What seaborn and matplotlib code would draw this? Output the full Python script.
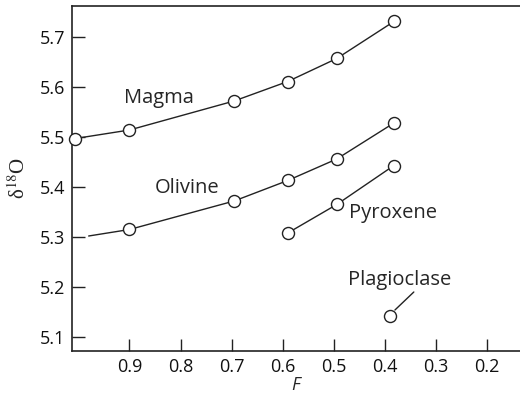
import matplotlib
matplotlib.use("Agg")
import pandas as pd
import seaborn as sns
import matplotlib.pyplot as plt

# =====================
# Data
# =====================
magma_f = [1.006, 0.9, 0.695, 0.59, 0.494, 0.382]
magma_d = [5.497, 5.514, 5.572, 5.611, 5.657, 5.731]

olivine_line_f = [0.98, 0.9, 0.695, 0.59, 0.494, 0.382]
olivine_line_d = [5.302, 5.315, 5.372, 5.413, 5.456, 5.528]
olivine_f = [0.9, 0.695, 0.59, 0.494, 0.382]
olivine_d = [5.315, 5.372, 5.413, 5.456, 5.528]

pyroxene_f = [0.59, 0.494, 0.382]
pyroxene_d = [5.308, 5.365, 5.443]

plag_f = [0.39]
plag_d = [5.143]

x_ticks = [0.9, 0.8, 0.7, 0.6, 0.5, 0.4, 0.3, 0.2]
y_ticks = [5.1, 5.2, 5.3, 5.4, 5.5, 5.6, 5.7]

# =====================
# Plot
# =====================
sns.set_style("ticks")
plt.rcParams["font.family"] = ["Open Sans", "DejaVu Sans"]
plt.rcParams["mathtext.fontset"] = "stix"

fig = plt.figure(figsize=(5.2, 4.0), dpi=100)
ax = fig.add_axes([0.1385, 0.1225, 0.8615, 0.8625])

lines = [
    (magma_f, magma_d),
    (olivine_line_f, olivine_line_d),
    (pyroxene_f, pyroxene_d),
]
for f, d in lines:
    sns.lineplot(x=f, y=d, ax=ax, color="#222222", linewidth=1.0,
                 sort=False, estimator=None)

pts = pd.DataFrame({
    "F": magma_f + olivine_f + pyroxene_f + plag_f,
    "d18O": magma_d + olivine_d + pyroxene_d + plag_d,
})
sns.scatterplot(data=pts, x="F", y="d18O", ax=ax, s=75, marker="o",
                facecolor="white", edgecolor="#222222", linewidth=1.0,
                zorder=5, clip_on=False)

ax.set_xlim(1.0126, 0.135)
ax.set_ylim(5.072, 5.762)
ax.set_xticks(x_ticks)
ax.set_yticks(y_ticks)
ax.set_xticklabels([f"{v:.1f}" for v in x_ticks])
ax.set_yticklabels([f"{v:.1f}" for v in y_ticks])
ax.tick_params(direction="in", length=9, width=1.0, labelsize=13,
               color="#222222", labelcolor="#111111", pad=5)

for side in ["left", "top", "bottom"]:
    ax.spines[side].set_linewidth(1.2)
    ax.spines[side].set_color("#222222")
ax.spines["right"].set_visible(False)

ax.set_xlabel("F", fontsize=13, style="italic", labelpad=0)
ax.set_ylabel(r"δ$^{\mathrm{18}}$O", fontsize=15, labelpad=7,
              family=["Liberation Serif", "DejaVu Serif"])

# curve labels
ax.text(0.843, 5.578, "Magma", fontsize=14.5, ha="center", va="center")
ax.text(0.788, 5.398, "Olivine", fontsize=14.5, ha="center", va="center")
ax.text(0.384, 5.348, "Pyroxene", fontsize=14.5, ha="center", va="center")
ax.text(0.371, 5.214, "Plagioclase", fontsize=14.5, ha="center", va="center")
ax.plot([0.343, 0.38], [5.19, 5.154], color="#222222", linewidth=1.0)

fig.savefig("out.png", dpi=100)
